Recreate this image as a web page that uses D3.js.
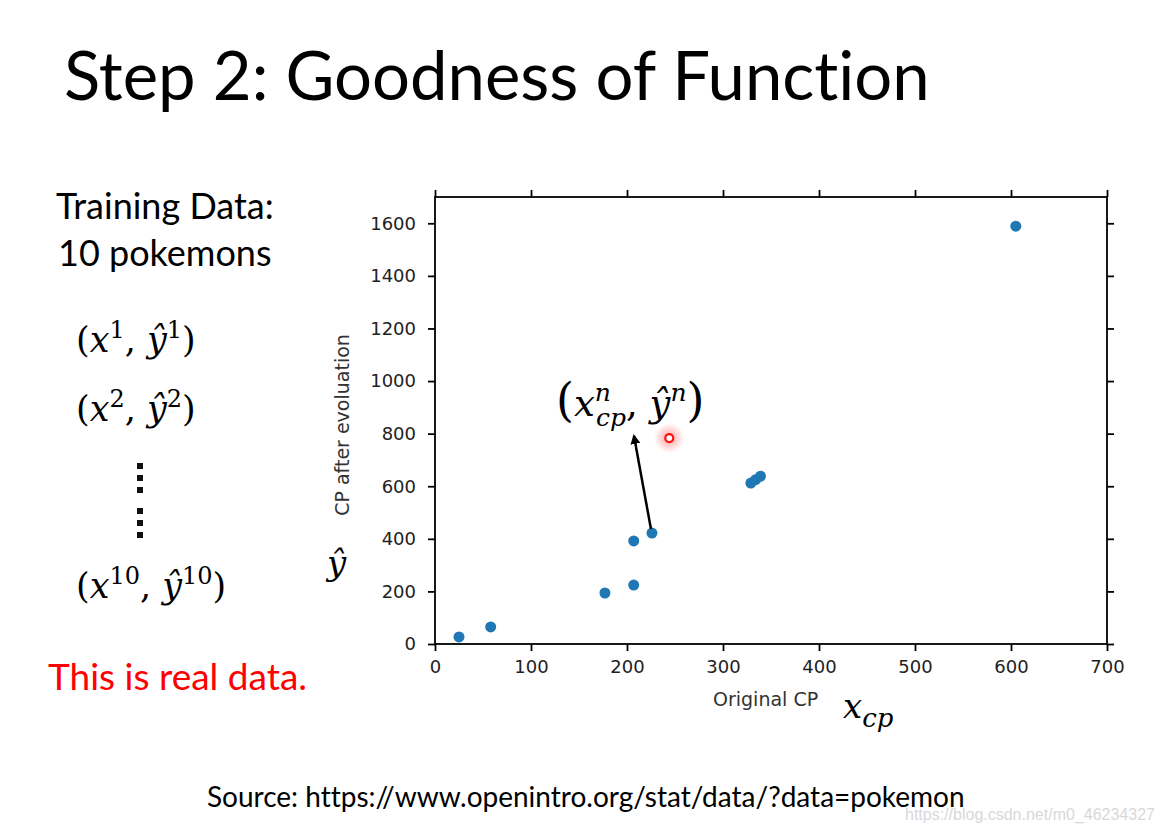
<!DOCTYPE html>
<html>
<head>
<meta charset="utf-8">
<script src="https://cdn.jsdelivr.net/npm/d3@7"></script>
<style>
  body { margin: 0; background: #fff; }
  svg { display: block; }
  .tick text { font-family: "DejaVu Sans", sans-serif; font-size: 18px; fill: #222; }
  .math { font-family: "DejaVu Serif", serif; }
  .slide { font-family: Lato, sans-serif; font-variant-ligatures: none; }
</style>
</head>
<body>
<svg id="chart" width="1162" height="833"></svg>
<script>
// CP before / after evolution
var originalCP = [25, 58, 177, 207, 207, 226, 329, 334, 339, 605];
var evolvedCP  = [27, 65, 194, 224, 392, 422, 612, 625, 638, 1589];
var highlight  = {x: 244, y: 783};
var xTicks = [0, 100, 200, 300, 400, 500, 600, 700];
var yTicks = [0, 200, 400, 600, 800, 1000, 1200, 1400, 1600];

var svg = d3.select("#chart");

var x = d3.scaleLinear().domain([0, 700]).range([435, 1107]);
var y = d3.scaleLinear().domain([0, 1700]).range([644, 197]);

// title + left side text
svg.append("text").attr("class", "slide")
    .attr("x", 64).attr("y", 100)
    .style("font-size", "67px")
    .text("Step 2: Goodness of Function");

svg.append("text").attr("class", "slide").attr("x", 56).attr("y", 219)
    .style("font-size", "36px")
    .text("Training Data:");
svg.append("text").attr("class", "slide").attr("x", 58).attr("y", 266)
    .style("font-size", "36px")
    .text("10 pokemons");

function pairLabel(yPos, n) {
  var t = svg.append("text").attr("class", "math")
      .attr("x", 76).attr("y", yPos).style("font-size", "35px");
  t.append("tspan").text("(");
  t.append("tspan").style("font-style", "italic").text("x");
  t.append("tspan").attr("dy", -14).style("font-size", "24px").text(n);
  t.append("tspan").attr("dy", 14).text(", ");
  t.append("tspan").style("font-style", "italic").text("ŷ");
  t.append("tspan").attr("dy", -14).style("font-size", "24px").text(n);
  t.append("tspan").attr("dy", 14).text(")");
}
pairLabel(352, "1");
pairLabel(421, "2");
pairLabel(598, "10");

[466, 478, 490, 511, 523, 535].forEach(function(d) {
  svg.append("rect").attr("x", 137).attr("y", d - 3).attr("width", 6).attr("height", 6).attr("fill", "#111");
});

svg.append("text").attr("class", "slide").attr("x", 48).attr("y", 690)
    .style("font-size", "37px")
    .style("fill", "#ff0000")
    .text("This is real data.");

// axes
var frame = svg.append("g");
frame.append("rect")
    .attr("x", x(0)).attr("y", y(1700))
    .attr("width", x(700) - x(0)).attr("height", y(0) - y(1700))
    .attr("fill", "none").attr("stroke", "#000").attr("stroke-width", 1.8);

function styleAxis(g) {
  g.select(".domain").remove();
  g.selectAll(".tick line").attr("stroke", "#000").attr("stroke-width", 1.8);
}

svg.append("g").attr("transform", "translate(0," + y(0) + ")")
    .call(d3.axisBottom(x).tickValues(xTicks).tickSize(7).tickPadding(9).tickFormat(d3.format("d")))
    .call(styleAxis);
svg.append("g").attr("transform", "translate(0," + y(1700) + ")")
    .call(d3.axisTop(x).tickValues(xTicks).tickSize(7).tickFormat(""))
    .call(styleAxis);
svg.append("g").attr("transform", "translate(" + x(0) + ",0)")
    .call(d3.axisLeft(y).tickValues(yTicks).tickSize(7).tickPadding(12).tickFormat(d3.format("d")))
    .call(styleAxis);
svg.append("g").attr("transform", "translate(" + x(700) + ",0)")
    .call(d3.axisRight(y).tickValues(yTicks).tickSize(7).tickFormat(""))
    .call(styleAxis);

svg.append("text")
    .attr("transform", "translate(349,425) rotate(-90)")
    .attr("text-anchor", "middle")
    .style("font-family", "'DejaVu Sans', sans-serif").style("font-size", "19px").style("fill", "#333")
    .text("CP after evoluation");
svg.append("text").attr("class", "math")
    .attr("x", 327).attr("y", 575)
    .style("font-size", "34px").style("font-style", "italic")
    .text("ŷ");

svg.append("text")
    .attr("x", 713).attr("y", 706)
    .style("font-family", "'DejaVu Sans', sans-serif").style("font-size", "19px").style("fill", "#333")
    .text("Original CP");
var xcp = svg.append("text").attr("class", "math")
    .attr("x", 843).attr("y", 718).style("font-size", "34px").style("font-style", "italic");
xcp.append("tspan").text("x");
xcp.append("tspan").attr("dy", 9).style("font-size", "26px").text("cp");

// points
svg.append("g").selectAll("circle")
    .data(originalCP)
    .join("circle")
    .attr("cx", function(d) { return x(d); })
    .attr("cy", function(d, i) { return y(evolvedCP[i]); })
    .attr("r", 5.5)
    .attr("fill", "#1f77b4");

// highlighted point with glow
var defs = svg.append("defs");
var grad = defs.append("radialGradient").attr("id", "glow");
grad.append("stop").attr("offset", "0%").attr("stop-color", "#ff6060").attr("stop-opacity", 0.6);
grad.append("stop").attr("offset", "100%").attr("stop-color", "#ff6060").attr("stop-opacity", 0);
svg.append("circle").attr("cx", x(highlight.x)).attr("cy", y(highlight.y)).attr("r", 15).attr("fill", "url(#glow)");
svg.append("circle").attr("cx", x(highlight.x)).attr("cy", y(highlight.y)).attr("r", 4)
    .attr("fill", "#fff").attr("stroke", "#ff1010").attr("stroke-width", 2.2);

// arrow from point 6 up to the label
defs.append("marker").attr("id", "head")
    .attr("viewBox", "0 0 10 10").attr("refX", 8).attr("refY", 5)
    .attr("markerWidth", 4).attr("markerHeight", 4).attr("orient", "auto")
    .append("path").attr("d", "M0,0L10,5L0,10z").attr("fill", "#000");
svg.append("line")
    .attr("x1", x(originalCP[5]) - 1).attr("y1", y(evolvedCP[5]) - 4)
    .attr("x2", 634).attr("y2", 436)
    .attr("stroke", "#000").attr("stroke-width", 2.5)
    .attr("marker-end", "url(#head)");

var ann = svg.append("text").attr("class", "math")
    .attr("x", 556).attr("y", 416).style("font-size", "37px");
ann.append("tspan").style("font-size", "46px").text("(");
ann.append("tspan").style("font-style", "italic").text("x");
ann.append("tspan").attr("dy", -15).style("font-style", "italic").style("font-size", "25px").text("n");
ann.append("tspan").attr("dx", -15).attr("dy", 25).style("font-style", "italic").style("font-size", "25px").text("cp");
ann.append("tspan").attr("dy", -10).text(", ");
ann.append("tspan").style("font-style", "italic").text("ŷ");
ann.append("tspan").attr("dy", -15).style("font-style", "italic").style("font-size", "25px").text("n");
ann.append("tspan").attr("dy", 15).style("font-size", "46px").text(")");

// footer
svg.append("text").attr("class", "slide").attr("x", 207).attr("y", 807)
    .style("font-size", "28px")
    .text("Source: https://www.openintro.org/stat/data/?data=pokemon");
svg.append("text").attr("x", 905).attr("y", 820)
    .style("font-family", "'Liberation Sans Narrow', 'Liberation Sans', sans-serif").style("font-size", "16px")
    .style("fill", "#d8d8d8")
    .text("https://blog.csdn.net/m0_46234327");
</script>
</body>
</html>
